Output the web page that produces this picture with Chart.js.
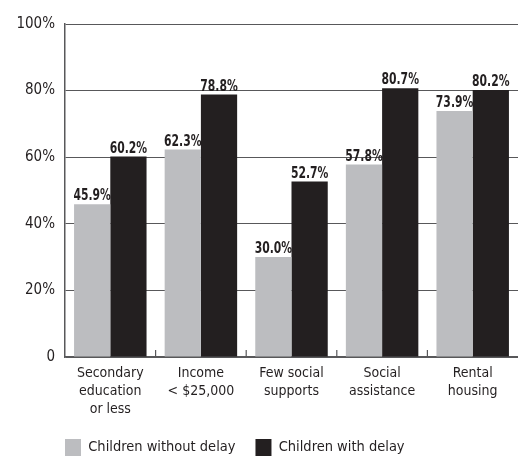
<!DOCTYPE html>
<html>
<head>
<meta charset="utf-8">
<script src="https://cdn.jsdelivr.net/npm/chart.js@4"></script>
<style>
  body { margin: 0; background: #fff; }
  #wrap { width: 518px; height: 457px; position: relative; }
</style>
</head>
<body>
<div id="wrap"><canvas id="chart"></canvas></div>
<script>
const categories = [
    ["Secondary", "education", "or less"],
    ["Income", "< $25,000"],
    ["Few social", "supports"],
    ["Social", "assistance"],
    ["Rental", "housing"]
];
const withoutDelay = [45.9, 62.3, 30.0, 57.8, 73.9];
const withDelay = [60.2, 78.8, 52.7, 80.7, 80.2];
const seriesNames = ["Children without delay", "Children with delay"];
const yTicks = [0, 20, 40, 60, 80, 100];

const FONT = "'Liberation Sans Narrow', 'DejaVu Sans Condensed', 'Arial Narrow', sans-serif";
const INK = '#231f20';
const LINE = '#58585a';

// value labels above each bar (squeezed to look like a condensed face)
const barLabels = {
    id: 'barLabels',
    afterDatasetsDraw(chart) {
        const ctx = chart.ctx;
        chart.data.datasets.forEach((ds, i) => {
            chart.getDatasetMeta(i).data.forEach((bar, j) => {
                ctx.save();
                ctx.font = 'bold 16px ' + FONT;
                ctx.fillStyle = INK;
                ctx.textAlign = 'center';
                ctx.textBaseline = 'alphabetic';
                ctx.translate(bar.x, bar.y - 4);
                ctx.scale(0.75, 1);
                ctx.fillText(ds.data[j].toFixed(1) + '%', 0, 0);
                ctx.restore();
            });
        });
    }
};

// small ticks pointing up between categories
const catTicks = {
    id: 'catTicks',
    afterDraw(chart) {
        const x = chart.scales.x;
        const bottom = chart.chartArea.bottom;
        const ctx = chart.ctx;
        ctx.save();
        ctx.strokeStyle = LINE;
        ctx.lineWidth = 1.2;
        for (let i = 1; i < categories.length; i++) {
            const px = (x.getPixelForValue(i - 1) + x.getPixelForValue(i)) / 2;
            ctx.beginPath();
            ctx.moveTo(px, bottom - 7);
            ctx.lineTo(px, bottom);
            ctx.stroke();
        }
        ctx.restore();
    }
};

// move the legend under the plot area, and let the x labels run into the free space
const legendShift = {
    id: 'legendShift',
    afterLayout(chart) {
        const lg = chart.legend;
        const pad = lg.options.labels.padding;
        const w = lg.right - lg.left;
        const h = lg.bottom - lg.top;
        lg.left = chart.chartArea.left - pad;
        lg.right = lg.left + w;
        lg.top = 419;
        lg.bottom = lg.top + h;
        chart.scales.x.bottom = lg.top + pad;
    }
};

new Chart(document.getElementById('chart'), {
    type: 'bar',
    data: {
        labels: categories,
        datasets: [
            { label: seriesNames[0], data: withoutDelay, backgroundColor: '#bcbdc0' },
            { label: seriesNames[1], data: withDelay, backgroundColor: INK }
        ]
    },
    options: {
        responsive: true,
        maintainAspectRatio: false,
        animation: false,
        layout: { padding: { top: 24, right: 0, left: 0, bottom: 0 } },
        datasets: { bar: { categoryPercentage: 0.8, barPercentage: 1.0 } },
        plugins: {
            tooltip: { enabled: false },
            legend: {
                position: 'bottom',
                align: 'start',
                labels: {
                    boxWidth: 16,
                    boxHeight: 17,
                    padding: 20,
                    color: INK,
                    font: { family: FONT, size: 14.5 }
                }
            }
        },
        scales: {
            x: {
                grid: { display: false, drawTicks: false },
                border: { color: LINE, width: 1.5 },
                afterFit(scale) { scale.height = 53; },
                ticks: {
                    color: INK,
                    autoSkip: false,
                    maxRotation: 0,
                    padding: 7,
                    font: { family: FONT, size: 14, lineHeight: 1.29 }
                }
            },
            y: {
                min: 0,
                max: 100,
                afterBuildTicks(scale) {
                    scale.ticks = yTicks.map(v => ({ value: v }));
                },
                afterFit(scale) { scale.width = 65; },
                grid: { color: LINE, drawTicks: false },
                border: { color: LINE, width: 1.5 },
                ticks: {
                    color: INK,
                    padding: 10,
                    font: { family: FONT, size: 15 },
                    callback: v => v === 0 ? '0' : v + '%'
                }
            }
        }
    },
    plugins: [barLabels, catTicks, legendShift]
});
</script>
</body>
</html>
